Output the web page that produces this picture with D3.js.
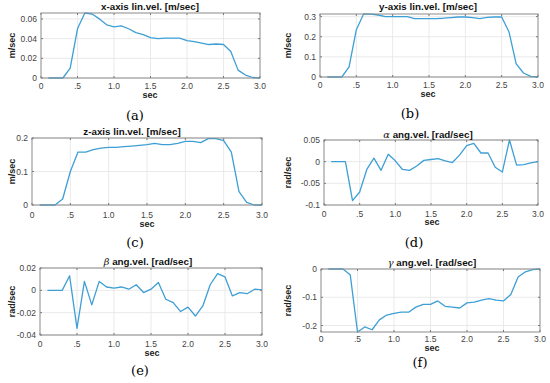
<!DOCTYPE html>
<meta charset="utf-8">
<script src="https://d3js.org/d3.v7.min.js"></script>
<style>
  body { margin: 0; background: #fff; }
</style>
<div id="chart"></div>
<script>
// sample times (sec)
var time = [0.1,0.2,0.3,0.4,0.5,0.6,0.7,0.8,0.9,1.0,1.1,1.2,1.3,1.4,1.5,1.6,1.7,1.8,1.9,2.0,2.1,2.2,2.3,2.4,2.5,2.6,2.7,2.8,2.9,3.0];

// linear velocities (m/sec)
var xLinVel = [0,0,0,0.010,0.050,0.066,0.065,0.060,0.054,0.052,0.053,0.050,0.046,0.044,0.041,0.040,0.0405,0.0405,0.0405,0.038,0.037,0.0355,0.034,0.0345,0.034,0.027,0.008,0.003,0.0005,0];
var yLinVel = [0,0,0,0.050,0.235,0.313,0.312,0.308,0.300,0.300,0.300,0.300,0.290,0.290,0.290,0.290,0.292,0.295,0.298,0.298,0.295,0.290,0.296,0.298,0.298,0.225,0.065,0.020,0.003,0];
var zLinVel = [0,0,0,0.018,0.100,0.158,0.158,0.165,0.170,0.172,0.172,0.174,0.176,0.178,0.180,0.184,0.180,0.180,0.184,0.190,0.190,0.186,0.198,0.198,0.192,0.158,0.040,0.008,0,0];

// angular velocities (rad/sec)
var alphaAngVel = [0,0,0,-0.090,-0.070,-0.018,0.008,-0.020,0.017,0.002,-0.018,-0.020,-0.010,0.003,0.005,0.007,0.002,-0.002,0.015,0.037,0.042,0.020,0.020,-0.013,-0.024,0.050,-0.008,-0.007,-0.003,0];
var betaAngVel = [0,0,0,0.013,-0.034,0.008,-0.013,0.008,0.003,0.002,0.003,0.001,0.005,-0.002,0.001,0.007,-0.008,-0.011,-0.019,-0.015,-0.023,-0.014,0.005,0.015,0.012,-0.005,-0.002,-0.003,0.001,0.0005];
var gammaAngVel = [0,0,0,-0.020,-0.223,-0.205,-0.215,-0.180,-0.163,-0.157,-0.153,-0.153,-0.135,-0.125,-0.125,-0.113,-0.132,-0.135,-0.138,-0.120,-0.117,-0.110,-0.105,-0.110,-0.113,-0.090,-0.028,-0.010,-0.002,0];

// axis ticks
var xTicks = [0,0.5,1,1.5,2,2.5,3];
var xTickLabels = ["0",".5","1.0","1.5","2.0","2.5","3.0"];
var xYTicks = [0,0.02,0.04,0.06], xYLabels = ["0","0.02","0.04","0.06"];
var yYTicks = [0,0.1,0.2,0.3], yYLabels = ["0","0.1","0.2","0.3"];
var zYTicks = [0,0.1,0.2], zYLabels = ["0","0.1","0.2"];
var aYTicks = [-0.1,-0.05,0,0.05], aYLabels = ["-0.1","-0.05","0","0.05"];
var bYTicks = [-0.04,-0.02,0,0.02], bYLabels = ["-0.04","-0.02","0","0.02"];
var gYTicks = [-0.2,-0.1,0], gYLabels = ["-0.2","-0.1","0"];

var SANS = "'Liberation Sans', Arial, sans-serif";
var SERIF = "'DejaVu Serif', 'Liberation Serif', serif";

var panels = [
  {values: xLinVel, greek: "", title: "x-axis lin.vel. [m/sec]", unit: "m/sec", caption: "(a)",
   yDomain: [0,0.066], yTicks: xYTicks, yLabels: xYLabels,
   box: [41,260,13,78], titleXY: [150,10], tickY: 88.5, secXY: [150,97.5], capXY: [135,120], ylabX: 12},
  {values: yLinVel, greek: "", title: "y-axis lin.vel. [m/sec]", unit: "m/sec", caption: "(b)",
   yDomain: [0,0.313], yTicks: yYTicks, yLabels: yYLabels,
   box: [320,538,14,77], titleXY: [428,10], tickY: 87.5, secXY: [428,96.5], capXY: [410,118], ylabX: 288},
  {values: zLinVel, greek: "", title: "z-axis lin.vel. [m/sec]", unit: "m/sec", caption: "(c)",
   yDomain: [0,0.2], yTicks: zYTicks, yLabels: zYLabels,
   box: [32,262,138,205], titleXY: [132,135], tickY: 218, secXY: [147,226.5], capXY: [135,247], ylabX: 12},
  {values: alphaAngVel, greek: "\u03B1", title: " ang.vel. [rad/sec]", unit: "rad/sec", caption: "(d)",
   yDomain: [-0.1,0.05], yTicks: aYTicks, yLabels: aYLabels,
   box: [324,538,140,205], titleXY: [428,137.5], tickY: 216.5, secXY: [432,225], capXY: [414,247], ylabX: 288},
  {values: betaAngVel, greek: "\u03B2", title: " ang.vel. [rad/sec]", unit: "rad/sec", caption: "(e)",
   yDomain: [-0.04,0.02], yTicks: bYTicks, yLabels: bYLabels,
   box: [40,262,268,335], titleXY: [148,265], tickY: 347, secXY: [152,356], capXY: [140,375], ylabX: 12},
  {values: gammaAngVel, greek: "\u03B3", title: " ang.vel. [rad/sec]", unit: "rad/sec", caption: "(f)",
   yDomain: [-0.223,0], yTicks: gYTicks, yLabels: gYLabels,
   box: [321,540,269,332], titleXY: [432,266], tickY: 342, secXY: [432,350.5], capXY: [420,366.5], ylabX: 288}
];

var svg = d3.select("#chart").append("svg")
  .attr("width", 550)
  .attr("height", 383);

panels.forEach(function(p) {
  var g = svg.append("g");
  var x = d3.scaleLinear().domain([0,3]).range([p.box[0], p.box[1]]);
  var y = d3.scaleLinear().domain(p.yDomain).range([p.box[3], p.box[2]]);

  // grid
  g.selectAll(".gx").data(xTicks.slice(1,-1)).enter().append("line")
    .attr("x1", d => x(d)).attr("x2", d => x(d))
    .attr("y1", p.box[2]).attr("y2", p.box[3])
    .attr("stroke", "#e4e4e4").attr("stroke-width", 0.8);
  g.selectAll(".gy").data(p.yTicks).enter().append("line")
    .attr("x1", p.box[0]).attr("x2", p.box[1])
    .attr("y1", d => y(d)).attr("y2", d => y(d))
    .attr("stroke", "#e4e4e4").attr("stroke-width", 0.8);

  // inward tick marks on all four sides
  xTicks.forEach(function(t) {
    g.append("line").attr("x1", x(t)).attr("x2", x(t)).attr("y1", p.box[3]).attr("y2", p.box[3]-2)
      .attr("stroke", "#555").attr("stroke-width", 0.8);
    g.append("line").attr("x1", x(t)).attr("x2", x(t)).attr("y1", p.box[2]).attr("y2", p.box[2]+2)
      .attr("stroke", "#555").attr("stroke-width", 0.8);
  });
  p.yTicks.forEach(function(t) {
    g.append("line").attr("x1", p.box[0]).attr("x2", p.box[0]+2).attr("y1", y(t)).attr("y2", y(t))
      .attr("stroke", "#555").attr("stroke-width", 0.8);
    g.append("line").attr("x1", p.box[1]).attr("x2", p.box[1]-2).attr("y1", y(t)).attr("y2", y(t))
      .attr("stroke", "#555").attr("stroke-width", 0.8);
  });

  // data line
  g.append("path")
    .datum(time.map((t, i) => [t, p.values[i]]))
    .attr("fill", "none")
    .attr("stroke", "#3d9fd5")
    .attr("stroke-width", 1.3)
    .attr("stroke-linejoin", "round")
    .attr("d", d3.line().x(d => x(d[0])).y(d => y(d[1])));

  // box
  g.append("rect")
    .attr("x", p.box[0]).attr("y", p.box[2])
    .attr("width", p.box[1]-p.box[0]).attr("height", p.box[3]-p.box[2])
    .attr("fill", "none").attr("stroke", "#8a8a8a").attr("stroke-width", 1);

  // tick labels
  g.selectAll(".xl").data(xTicks).enter().append("text")
    .attr("x", d => x(d)).attr("y", p.tickY)
    .attr("text-anchor", "middle").style("font-family", SANS).style("font-size", "8.5px").attr("fill", "#444")
    .text((d, i) => xTickLabels[i]);
  g.selectAll(".yl").data(p.yTicks).enter().append("text")
    .attr("x", p.box[0]-4).attr("y", d => y(d)+3)
    .attr("text-anchor", "end").style("font-family", SANS).style("font-size", "8.5px").attr("fill", "#444")
    .text((d, i) => p.yLabels[i]);

  // title
  var tt = g.append("text")
    .attr("x", p.titleXY[0]).attr("y", p.titleXY[1])
    .attr("text-anchor", "middle").style("font-family", SANS).style("font-size", "9.8px")
    .style("font-weight", "bold").attr("fill", "#111");
  if (p.greek) {
    tt.append("tspan").style("font-family", SERIF).style("font-style", "italic")
      .style("font-weight", "normal").text(p.greek);
  }
  tt.append("tspan").text(p.title);

  // axis labels
  g.append("text")
    .attr("x", p.secXY[0]).attr("y", p.secXY[1])
    .attr("text-anchor", "middle").style("font-family", SANS).style("font-size", "9px")
    .style("font-weight", "bold").attr("fill", "#222")
    .text("sec");
  g.append("text")
    .attr("transform", "translate(" + p.ylabX + "," + ((p.box[2]+p.box[3])/2) + ") rotate(-90)")
    .attr("y", 3)
    .attr("text-anchor", "middle").style("font-family", SANS).style("font-size", "9px")
    .style("font-weight", "bold").attr("fill", "#222")
    .text(p.unit);

  // caption
  g.append("text")
    .attr("x", p.capXY[0]).attr("y", p.capXY[1])
    .attr("text-anchor", "middle").style("font-size", "13px")
    .style("font-family", SERIF).attr("fill", "#000")
    .text(p.caption);
});
</script>
